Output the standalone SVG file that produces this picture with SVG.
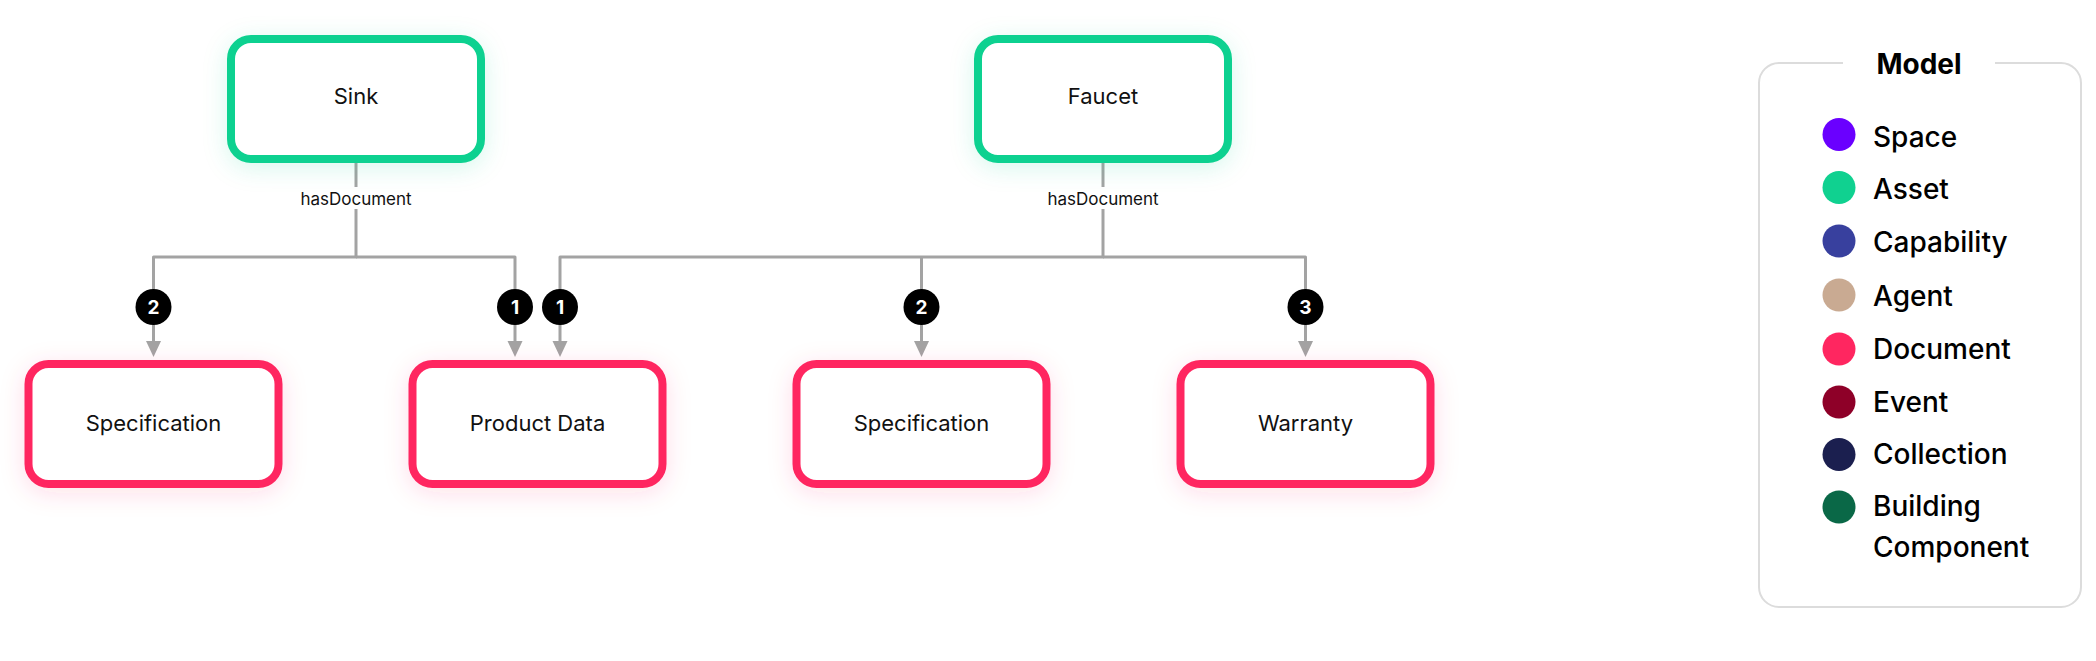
<svg xmlns="http://www.w3.org/2000/svg" width="2096" height="661" viewBox="0 0 2096 661">
  <style>
    .node { fill: #ffffff; stroke-width: 8; }
    .asset { stroke: #10D190; }
    .doc { stroke: #FF2660; }
    .ntext { font-family: Inter, "Liberation Sans", sans-serif; font-size: 22px; fill: #111111; text-anchor: middle; }
    .conn { fill: none; stroke: #A3A3A3; stroke-width: 3; stroke-linejoin: round; }
    .lbl { font-family: Inter, "Liberation Sans", sans-serif; font-size: 17px; fill: #111111; text-anchor: middle; }
    .badge { fill: #000000; }
    .btext { font-family: Inter, "Liberation Sans", sans-serif; font-size: 19px; font-weight: 700; fill: #ffffff; text-anchor: middle; }
    .ltext { font-family: Inter, "Liberation Sans", sans-serif; font-size: 28px; font-weight: 500; fill: #000000; }
    .ltitle { font-family: Inter, "Liberation Sans", sans-serif; font-size: 28px; font-weight: 700; fill: #000000; text-anchor: middle; }
  </style>
  <defs>
    <marker id="arrow" viewBox="0 0 16 16" markerUnits="userSpaceOnUse" markerWidth="16" markerHeight="16" refX="9" refY="8" orient="auto">
      <path d="M0,0.5 L16,8 L0,15.5 z" fill="#A3A3A3"/>
    </marker>
    <filter id="glowG" x="-30%" y="-40%" width="160%" height="190%">
      <feDropShadow dx="0" dy="5" stdDeviation="12" flood-color="#10D190" flood-opacity="0.16"/>
    </filter>
    <filter id="glowP" x="-30%" y="-40%" width="160%" height="190%">
      <feDropShadow dx="0" dy="5" stdDeviation="12" flood-color="#FF2660" flood-opacity="0.14"/>
    </filter>
  </defs>
  <rect x="0" y="0" width="2096" height="661" fill="#ffffff"/>

  <g id="connectors">
    <path class="conn" d="M356,162 V257 H153.5 V350" marker-end="url(#arrow)"/>
    <path class="conn" d="M356,257 H515 V350" marker-end="url(#arrow)"/>
    <path class="conn" d="M1103,162 V257 H560 V350" marker-end="url(#arrow)"/>
    <path class="conn" d="M921.5,257 V350" marker-end="url(#arrow)"/>
    <path class="conn" d="M1103,257 H1305.5 V350" marker-end="url(#arrow)"/>
    <rect x="296" y="187" width="120" height="22" fill="#ffffff"/>
    <text class="lbl" x="356" y="204.5">hasDocument</text>
    <rect x="1043" y="187" width="120" height="22" fill="#ffffff"/>
    <text class="lbl" x="1103" y="204.5">hasDocument</text>
    <circle class="badge" cx="153.5" cy="307" r="18"/>
    <text class="btext" x="153.5" y="314">2</text>
    <circle class="badge" cx="515" cy="307" r="18"/>
    <text class="btext" x="515" y="314">1</text>
    <circle class="badge" cx="560" cy="307" r="18"/>
    <text class="btext" x="560" y="314">1</text>
    <circle class="badge" cx="921.5" cy="307" r="18"/>
    <text class="btext" x="921.5" y="314">2</text>
    <circle class="badge" cx="1305.5" cy="307" r="18"/>
    <text class="btext" x="1305.5" y="314">3</text>
  </g>

  <g id="sink">
    <rect class="node asset" x="231" y="39" width="250" height="120" rx="20" filter="url(#glowG)"/>
    <text class="ntext" x="356" y="104">Sink</text>
  </g>
  <g id="faucet">
    <rect class="node asset" x="978" y="39" width="250" height="120" rx="20" filter="url(#glowG)"/>
    <text class="ntext" x="1103" y="104">Faucet</text>
  </g>
  <g id="spec1">
    <rect class="node doc" x="28.5" y="364" width="250" height="120" rx="20" filter="url(#glowP)"/>
    <text class="ntext" x="153.5" y="431">Specification</text>
  </g>
  <g id="productdata">
    <rect class="node doc" x="412.5" y="364" width="250" height="120" rx="20" filter="url(#glowP)"/>
    <text class="ntext" x="537.5" y="431">Product Data</text>
  </g>
  <g id="spec2">
    <rect class="node doc" x="796.5" y="364" width="250" height="120" rx="20" filter="url(#glowP)"/>
    <text class="ntext" x="921.5" y="431">Specification</text>
  </g>
  <g id="warranty">
    <rect class="node doc" x="1180.5" y="364" width="250" height="120" rx="20" filter="url(#glowP)"/>
    <text class="ntext" x="1305.5" y="431">Warranty</text>
  </g>

  <g id="legend">
    <rect x="1759" y="63" width="322" height="544" rx="20" fill="#ffffff" stroke="#DCDCDC" stroke-width="2"/>
    <rect x="1843" y="55" width="152" height="16" fill="#ffffff"/>
    <text class="ltitle" x="1919" y="74">Model</text>
    <circle cx="1839" cy="134.5" r="16.5" fill="#6A00FF"/>
    <text class="ltext" x="1873" y="147">Space</text>
    <circle cx="1839" cy="187.5" r="16.5" fill="#10D190"/>
    <text class="ltext" x="1873" y="199">Asset</text>
    <circle cx="1839" cy="241" r="16.5" fill="#38409E"/>
    <text class="ltext" x="1873" y="252">Capability</text>
    <circle cx="1839" cy="295" r="16.5" fill="#C9AA92"/>
    <text class="ltext" x="1873" y="306">Agent</text>
    <circle cx="1839" cy="349" r="16.5" fill="#FF2660"/>
    <text class="ltext" x="1873" y="359">Document</text>
    <circle cx="1839" cy="402" r="16.5" fill="#8E0028"/>
    <text class="ltext" x="1873" y="412">Event</text>
    <circle cx="1839" cy="454.5" r="16.5" fill="#1B1F4F"/>
    <text class="ltext" x="1873" y="464">Collection</text>
    <circle cx="1839" cy="507" r="16.5" fill="#0A6847"/>
    <text class="ltext" x="1873" y="516">Building</text>
    <text class="ltext" x="1873" y="557">Component</text>
  </g>
</svg>
